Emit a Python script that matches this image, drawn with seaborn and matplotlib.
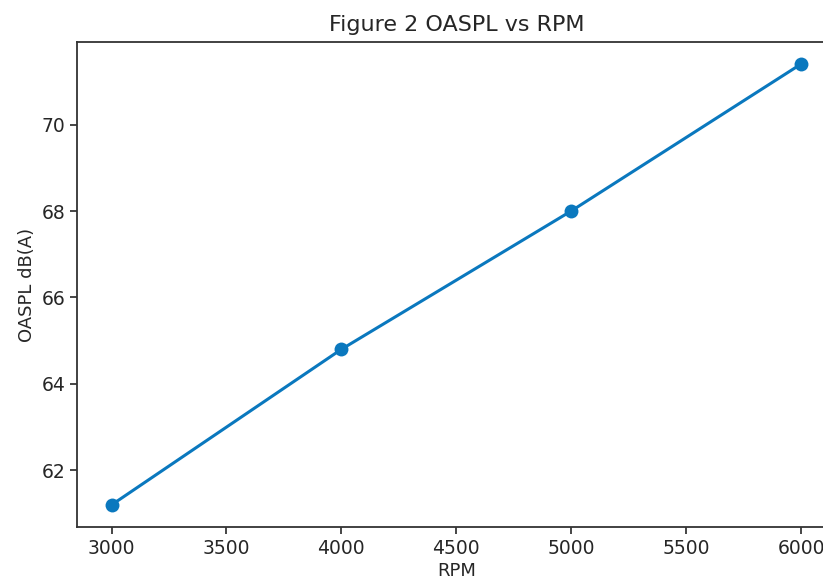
import matplotlib
matplotlib.use("Agg")
import matplotlib.pyplot as plt
import seaborn as sns
import pandas as pd

rpm = [3000, 4000, 5000, 6000]
oaspl = [61.2, 64.8, 68.0, 71.4]

df = pd.DataFrame({"RPM": rpm, "OASPL": oaspl})

plt.rcParams['font.family'] = ['DejaVu Sans']
txt = "#262626"
fig = plt.figure(figsize=(8.23, 5.8), dpi=100)
ax = fig.add_axes([0.0936, 0.0914, 1.0152 - 0.0936, 0.9276 - 0.0914])
sns.lineplot(data=df, x="RPM", y="OASPL", marker="o", color="#0a78be",
             linewidth=2.2, markersize=10, markeredgewidth=0, ax=ax)
ax.set_title("Figure 2 OASPL vs RPM", fontsize=16, pad=8, color=txt)
ax.set_xlabel("RPM", fontsize=13, color=txt, labelpad=3)
ax.set_ylabel("OASPL dB(A)", fontsize=13, color=txt)
ax.tick_params(labelsize=13.5, length=5, width=1.2, colors=txt)
for s in ax.spines.values():
    s.set_linewidth(1.3)
    s.set_color("#333333")
fig.savefig("out.png", dpi=100)
